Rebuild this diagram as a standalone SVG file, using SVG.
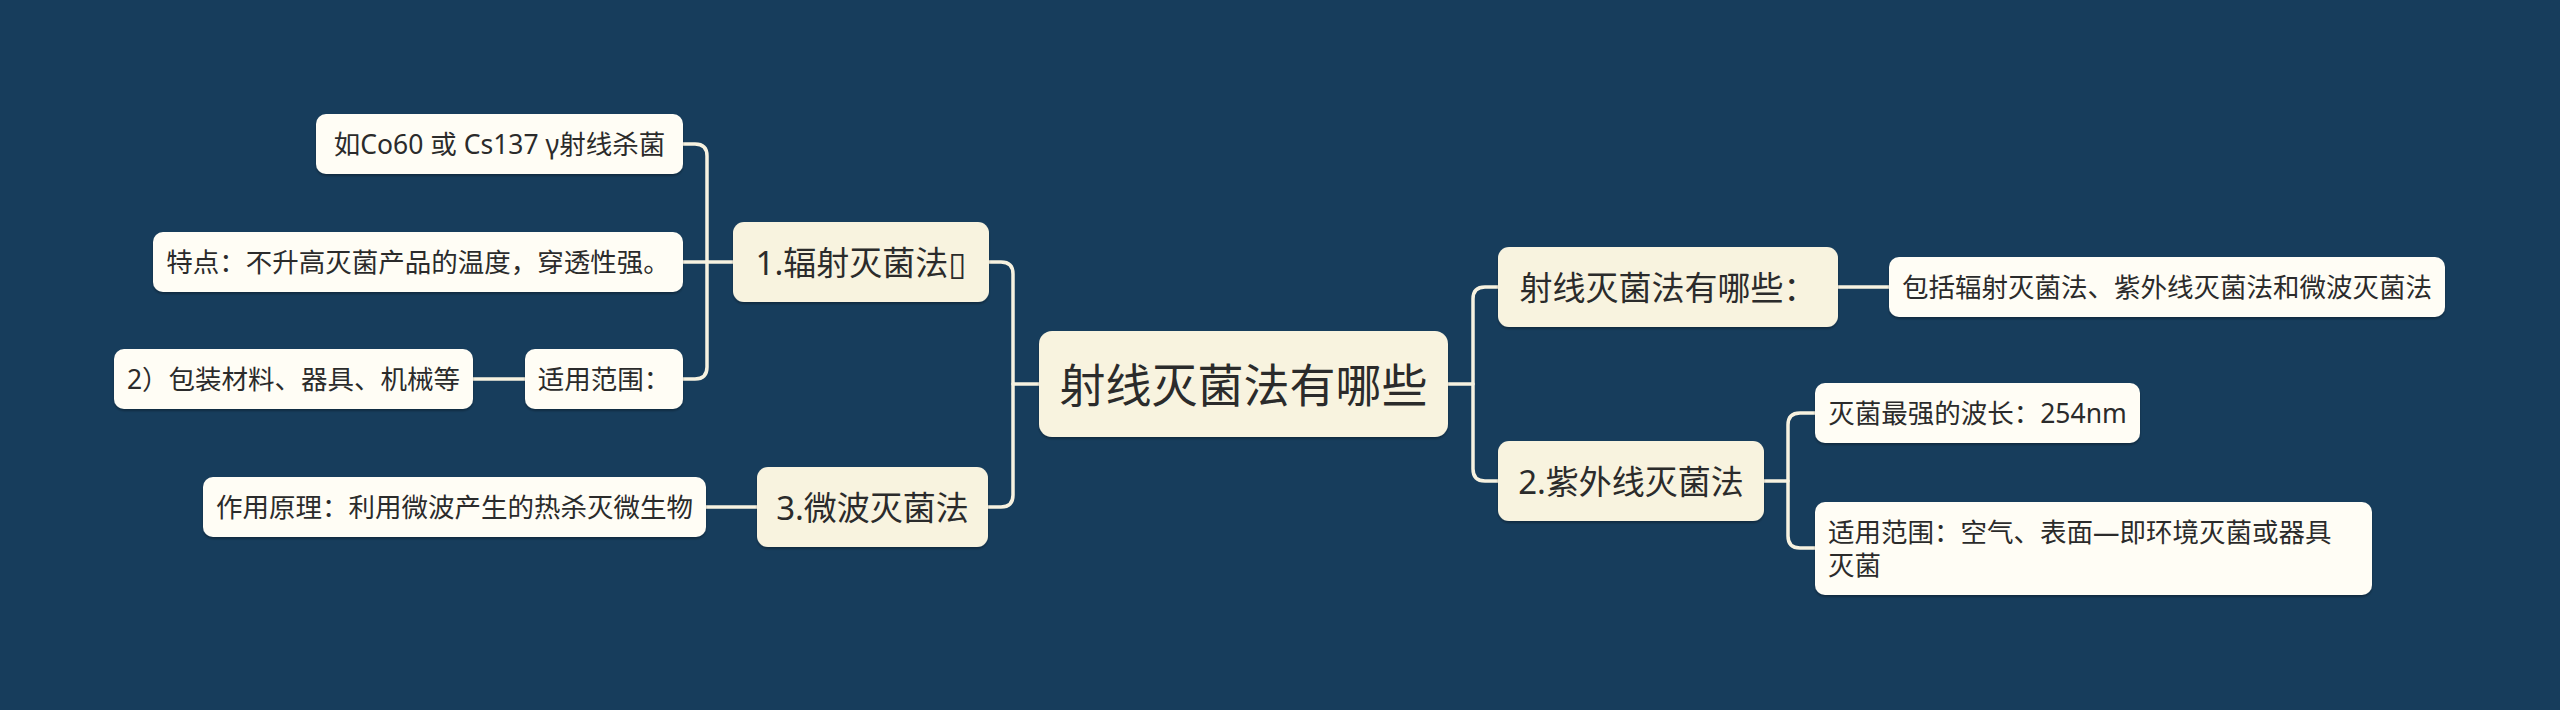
<svg xmlns="http://www.w3.org/2000/svg" width="2560" height="710" viewBox="0 0 2560 710">
<defs>
<style>
.bg{fill:#173d5c}
.main{fill:#f8f3df}
.l1{fill:#f8f3df}
.leaf{fill:#fffdf5}
.t{font-family:"Noto Sans","Noto Sans CJK SC","DejaVu Sans",sans-serif;fill:#2b2b2b;dominant-baseline:central}
.tm{font-size:46px;text-anchor:middle}
.t1{font-size:33px;text-anchor:middle}
.t2{font-size:26.5px;text-anchor:middle}
.t2l{font-size:26.5px}
.c{fill:none;stroke:#f7f2e0;stroke-width:3.5;stroke-linejoin:round;stroke-linecap:round}
</style>
<filter id="sh" x="-5%" y="-10%" width="110%" height="130%">
<feDropShadow dx="0" dy="2" stdDeviation="1.2" flood-color="#000000" flood-opacity="0.3"/>
</filter>
</defs>
<rect class="bg" x="0" y="0" width="2560" height="710"/>
<g id="connectors">
<path class="c" d="M1039 384 H1013"/>
<path class="c" d="M989 262 H1001 Q1013 262 1013 274 V495 Q1013 507 1001 507 H988"/>
<path class="c" d="M733 262 H683"/>
<path class="c" d="M683 144 H695 Q707 144 707 156 V367 Q707 379 695 379 H683"/>
<path class="c" d="M473 379 H525"/>
<path class="c" d="M706 507 H757"/>
<path class="c" d="M1448 384 H1473"/>
<path class="c" d="M1498 287 H1485 Q1473 287 1473 299 V469 Q1473 481 1485 481 H1498"/>
<path class="c" d="M1838 287 H1889"/>
<path class="c" d="M1764 481 H1788"/>
<path class="c" d="M1815 413 H1800 Q1788 413 1788 425 V536 Q1788 548 1800 548 H1815"/>
</g>
<g id="n-main">
<rect class="main" filter="url(#sh)" x="1039" y="331" width="409" height="106" rx="13"/>
<text class="t tm" x="1243.5" y="384">射线灭菌法有哪些</text>
</g>
<g id="n-1">
<rect class="l1" filter="url(#sh)" x="733" y="222" width="256" height="80" rx="11"/>
<text class="t t1" x="861" y="262">1.辐射灭菌法▯</text>
</g>
<g id="n-3">
<rect class="l1" filter="url(#sh)" x="757" y="467" width="231" height="80" rx="11"/>
<text class="t t1" x="872.5" y="507">3.微波灭菌法</text>
</g>
<g id="n-what">
<rect class="l1" filter="url(#sh)" x="1498" y="247" width="340" height="80" rx="11"/>
<text class="t t1" x="1668" y="287">射线灭菌法有哪些：</text>
</g>
<g id="n-2">
<rect class="l1" filter="url(#sh)" x="1498" y="441" width="266" height="80" rx="11"/>
<text class="t t1" x="1631" y="481">2.紫外线灭菌法</text>
</g>
<g id="n-co60">
<rect class="leaf" filter="url(#sh)" x="316" y="114" width="367" height="60" rx="10"/>
<text class="t t2" x="499.5" y="144">如Co60 或 Cs137 γ射线杀菌</text>
</g>
<g id="n-feature">
<rect class="leaf" filter="url(#sh)" x="153" y="232" width="530" height="60" rx="10"/>
<text class="t t2" x="418" y="262">特点：不升高灭菌产品的温度，穿透性强。</text>
</g>
<g id="n-scope1">
<rect class="leaf" filter="url(#sh)" x="525" y="349" width="158" height="60" rx="10"/>
<text class="t t2" x="604" y="379">适用范围：</text>
</g>
<g id="n-pack">
<rect class="leaf" filter="url(#sh)" x="114" y="349" width="359" height="60" rx="10"/>
<text class="t t2" x="293.5" y="379">2）包装材料、器具、机械等</text>
</g>
<g id="n-principle">
<rect class="leaf" filter="url(#sh)" x="203" y="477" width="503" height="60" rx="10"/>
<text class="t t2" x="454.5" y="507">作用原理：利用微波产生的热杀灭微生物</text>
</g>
<g id="n-include">
<rect class="leaf" filter="url(#sh)" x="1889" y="257" width="556" height="60" rx="10"/>
<text class="t t2" x="2167" y="287">包括辐射灭菌法、紫外线灭菌法和微波灭菌法</text>
</g>
<g id="n-wave">
<rect class="leaf" filter="url(#sh)" x="1815" y="383" width="325" height="60" rx="10"/>
<text class="t t2" x="1977.5" y="413">灭菌最强的波长：254nm</text>
</g>
<g id="n-scope2">
<rect class="leaf" filter="url(#sh)" x="1815" y="502" width="557" height="93" rx="10"/>
<text class="t t2l" x="1828" y="532">适用范围：空气、表面—即环境灭菌或器具</text>
<text class="t t2l" x="1828" y="565">灭菌</text>
</g>
</svg>
